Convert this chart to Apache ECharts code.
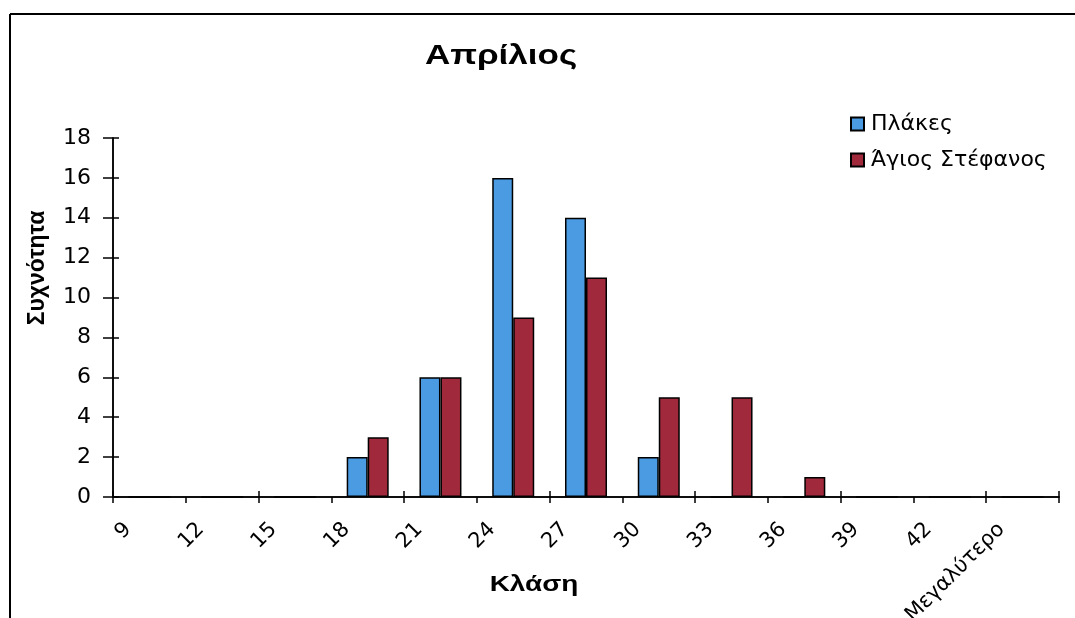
<!DOCTYPE html>
<html>
<head>
<meta charset="utf-8">
<style>
  html, body { margin: 0; padding: 0; background: #fff; }
  #chart { width: 1075px; height: 618px; }
</style>
<script src="https://cdn.jsdelivr.net/npm/echarts@6/dist/echarts.min.js"></script>
</head>
<body>
<div id="chart"></div>
<script>
// Frequency histogram, April: two stations side by side per class
const classes = ['9', '12', '15', '18', '21', '24', '27', '30', '33', '36', '39', '42', 'Μεγαλύτερο'];
const plakes = [0, 0, 0, 2, 6, 16, 14, 2, 0, 0, 0, 0, 0];
const agiosStefanos = [0, 0, 0, 3, 6, 9, 11, 5, 5, 1, 0, 0, 0];
const yTicks = { min: 0, max: 18, interval: 2 };

const FONT = '"DejaVu Sans", "Liberation Sans", Arial, sans-serif';
const HEAD_FONT = '"Liberation Sans", Arial, sans-serif';
const chart = echarts.init(document.getElementById('chart'), null, { renderer: 'canvas' });

const lineStyle = { color: '#000', width: 1.5 };

chart.setOption({
  animation: false,
  backgroundColor: '#fff',
  textStyle: { fontFamily: FONT },
  grid: { left: 113, right: 16, top: 138, bottom: 121, containLabel: false, outerBoundsMode: 'none' },
  legend: {
    orient: 'vertical',
    left: 845,
    top: 108,
    itemWidth: 13,
    itemHeight: 13,
    itemGap: 14,
    icon: 'rect',
    textStyle: { fontFamily: FONT, fontSize: 22, color: '#000', padding: [0, 0, 0, 2] },
    data: ['Πλάκες', 'Άγιος Στέφανος']
  },
  xAxis: [
    {
      type: 'category',
      data: classes,
      position: 'bottom',
      axisLine: { lineStyle },
      axisTick: { show: true, inside: false, length: 6, lineStyle },
      axisLabel: {
        interval: 0,
        rotate: 45,
        margin: 8,
        padding: [0, 30, 0, 0],
        color: '#000',
        fontSize: 21,
        fontFamily: FONT
      },
      splitLine: { show: false }
    },
    {
      // inner half of the crossing tick marks
      type: 'category',
      data: classes,
      position: 'bottom',
      offset: 0,
      axisLine: { lineStyle },
      axisTick: { show: true, inside: true, length: 6, lineStyle },
      axisLabel: { show: false },
      splitLine: { show: false }
    }
  ],
  yAxis: [
    {
      type: 'value',
      min: yTicks.min,
      max: yTicks.max,
      interval: yTicks.interval,
      position: 'left',
      axisLine: { show: true, lineStyle },
      axisTick: { show: true, inside: false, length: 10, lineStyle },
      axisLabel: { color: '#000', fontSize: 22, fontFamily: FONT, margin: 22 },
      splitLine: { show: false }
    },
    {
      type: 'value',
      min: yTicks.min,
      max: yTicks.max,
      interval: yTicks.interval,
      position: 'left',
      offset: 0,
      axisLine: { show: true, lineStyle },
      axisTick: { show: true, inside: true, length: 6, lineStyle },
      axisLabel: { show: false },
      splitLine: { show: false }
    }
  ],
  series: [
    {
      name: 'Πλάκες',
      type: 'bar',
      xAxisIndex: 0,
      yAxisIndex: 0,
      data: plakes,
      barWidth: 21,
      barGap: '0%',
      itemStyle: { color: '#4b9be3', borderColor: '#000', borderWidth: 1.5 }
    },
    {
      name: 'Άγιος Στέφανος',
      type: 'bar',
      xAxisIndex: 0,
      yAxisIndex: 0,
      data: agiosStefanos,
      barWidth: 21,
      barGap: '0%',
      itemStyle: { color: '#a02a3c', borderColor: '#000', borderWidth: 1.5 }
    }
  ],
  graphic: [
    {
      type: 'line',
      shape: { x1: 10, y1: 14, x2: 1075, y2: 14 },
      style: { stroke: '#000', lineWidth: 2 }
    },
    {
      type: 'line',
      shape: { x1: 10, y1: 14, x2: 10, y2: 618 },
      style: { stroke: '#000', lineWidth: 2 }
    },
    {
      type: 'text',
      x: 501,
      y: 56,
      scaleX: 1.25,
      style: {
        text: 'Απρίλιος',
        font: 'bold 28px ' + HEAD_FONT,
        fill: '#000',
        textAlign: 'center',
        textVerticalAlign: 'middle'
      }
    },
    {
      type: 'text',
      x: 38,
      y: 268,
      rotation: Math.PI / 2,
      style: {
        text: 'Συχνότητα',
        font: 'bold 23px ' + HEAD_FONT,
        fill: '#000',
        textAlign: 'center',
        textVerticalAlign: 'middle'
      }
    },
    {
      type: 'text',
      x: 534,
      y: 585,
      scaleX: 1.27,
      style: {
        text: 'Κλάση',
        font: 'bold 22px ' + HEAD_FONT,
        fill: '#000',
        textAlign: 'center',
        textVerticalAlign: 'middle'
      }
    }
  ]
});
</script>
</body>
</html>
